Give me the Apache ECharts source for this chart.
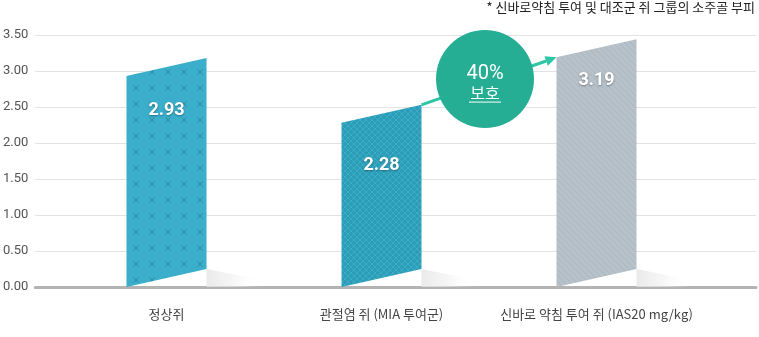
<!DOCTYPE html>
<html>
<head>
<meta charset="utf-8">
<script src="https://cdn.jsdelivr.net/npm/echarts@6/dist/echarts.min.js"></script>
<style>
  html, body { margin: 0; padding: 0; background: #fff; }
  #chart { width: 759px; height: 337px; }
</style>
</head>
<body>
<div id="chart"></div>
<script>
// Trabecular bone volume per rat group
const categories = ['정상쥐', '관절염 쥐 (MIA 투여군)', '신바로 약침 투여 쥐 (IAS20 mg/kg)'];
const volumes = [2.93, 2.28, 3.19];
const protectionPct = 40;
const protectionWord = '보호';
const yMin = 0, yMax = 3.5, yStep = 0.5;
const noteText = '* 신바로약침 투여 및 대조군 쥐 그룹의 소주골 부피';

const KR = '"Noto Sans CJK KR", "Noto Sans", sans-serif';
const NUM = 'Roboto, "Noto Sans CJK KR", sans-serif';

// ---- fill textures for the three slanted bars ----
function tile(size, draw) {
  const c = document.createElement('canvas');
  c.width = size; c.height = size;
  draw(c.getContext('2d'), size);
  return { image: c, repeat: 'repeat' };
}
const crossTile = tile(16, (g, s) => {
  g.fillStyle = '#3aaecb'; g.fillRect(0, 0, s, s);
  g.strokeStyle = '#2a8aa4'; g.lineWidth = 1;
  g.beginPath();
  g.moveTo(5.5, 5.5); g.lineTo(10.5, 10.5);
  g.moveTo(10.5, 5.5); g.lineTo(5.5, 10.5);
  g.stroke();
});
const meshTile = tile(6, (g, s) => {
  g.fillStyle = '#2a9eb9'; g.fillRect(0, 0, s, s);
  g.strokeStyle = 'rgba(110,200,222,0.3)'; g.lineWidth = 1;
  g.beginPath();
  g.moveTo(0, 0); g.lineTo(s, s);
  g.moveTo(s, 0); g.lineTo(0, s);
  g.stroke();
});
const stripeTile = tile(6, (g, s) => {
  g.fillStyle = '#b7c1c9'; g.fillRect(0, 0, s, s);
  g.strokeStyle = '#aab5be'; g.lineWidth = 1;
  g.beginPath();
  g.moveTo(-1, -1); g.lineTo(s + 1, s + 1);
  g.moveTo(-1, s - 1); g.lineTo(1, s + 1);
  g.moveTo(s - 1, -1); g.lineTo(s + 1, 1);
  g.stroke();
});
const barFills = [crossTile, meshTile, stripeTile];
const labelDrop = [34, 43, 23];

const HALF_W = 40;   // half width of a slanted bar
const RISE = 18;     // how far the right edge is lifted

function renderBar(params, api) {
  const i = api.value(0);
  const v = api.value(1);
  const base = api.coord([i, 0]);
  const top = api.coord([i, v]);
  const xl = base[0] - HALF_W, xr = base[0] + HALF_W;
  const y0 = base[1], yt = top[1];
  return {
    type: 'group',
    children: [
      {
        // soft floor shadow to the right of the bar
        type: 'polygon',
        shape: { points: [[xr, y0 - RISE], [xr + 55, y0 - 7], [xr + 55, y0], [xr, y0]] },
        style: {
          fill: { type: 'linear', x: 0, y: 0, x2: 1, y2: 0.3,
            colorStops: [
              { offset: 0, color: 'rgba(228,228,228,0.8)' },
              { offset: 0.45, color: 'rgba(238,238,238,0.6)' },
              { offset: 1, color: 'rgba(255,255,255,0)' }] }
        }
      },
      {
        type: 'polygon',
        shape: { points: [[xl, yt], [xr, yt - RISE], [xr, y0 - RISE], [xl, y0]] },
        style: { fill: barFills[i] }
      },
      {
        type: 'text',
        x: base[0], y: yt + labelDrop[i],
        style: {
          text: v.toFixed(2), fill: '#fff', font: 'bold 18px ' + NUM,
          align: 'center', verticalAlign: 'middle',
          textShadowColor: 'rgba(0,0,0,0.35)', textShadowBlur: 2, textShadowOffsetY: 1
        }
      }
    ]
  };
}

// arrow from the arthritis bar to the treated bar, with the protection bubble on it
function renderArrow(params, api) {
  const a = api.coord([1, volumes[1]]);
  const b = api.coord([2, volumes[2]]);
  const s = [a[0] + HALF_W, a[1] - RISE];
  const e = [b[0] - HALF_W, b[1]];
  const dx = e[0] - s[0], dy = e[1] - s[1];
  const len = Math.sqrt(dx * dx + dy * dy);
  const ux = dx / len, uy = dy / len;
  const head = 11, hw = 5;
  const hb = [e[0] - ux * head, e[1] - uy * head];
  const cx = (s[0] + e[0]) / 2 - 4, cy = (s[1] + e[1]) / 2 - 2;
  const color = '#2ec6a6';
  return {
    type: 'group',
    children: [
      { type: 'line', shape: { x1: s[0], y1: s[1], x2: hb[0], y2: hb[1] },
        style: { stroke: color, lineWidth: 3 } },
      { type: 'polygon',
        shape: { points: [e, [hb[0] - uy * hw, hb[1] + ux * hw], [hb[0] + uy * hw, hb[1] - ux * hw]] },
        style: { fill: color } },
      { type: 'circle', shape: { cx: cx, cy: cy, r: 49 }, style: { fill: '#25ae94' } },
      { type: 'text', x: cx, y: cy - 5,
        style: { text: protectionPct + '%', fill: '#fff', font: '20px ' + NUM, align: 'center', verticalAlign: 'middle' } },
      { type: 'text', x: cx, y: cy + 14,
        style: { text: protectionWord, fill: '#fff', font: '16px ' + KR, align: 'center', verticalAlign: 'middle' } },
      { type: 'line', shape: { x1: cx - 16, y1: cy + 23, x2: cx + 16, y2: cy + 23 },
        style: { stroke: '#fff', lineWidth: 1 } }
    ]
  };
}

const chart = echarts.init(document.getElementById('chart'), null, { renderer: 'canvas' });
chart.setOption({
  animation: false,
  backgroundColor: '#fff',
  grid: [
    { left: 33, right: 3, top: 35, bottom: 50 },
    { left: 59, right: 55, top: 35, bottom: 50 }
  ],
  xAxis: [
    { type: 'value', gridIndex: 0, min: 0, max: 1,
      axisLine: { show: true, lineStyle: { color: '#b3b3b3', width: 3 } },
      axisTick: { show: false }, axisLabel: { show: false }, splitLine: { show: false } },
    { type: 'category', gridIndex: 1, data: categories,
      axisLine: { show: false }, axisTick: { show: false },
      axisLabel: { interval: 0, color: '#444', fontSize: 13, fontFamily: KR, margin: 21 } }
  ],
  yAxis: [
    { type: 'value', gridIndex: 0, min: yMin, max: yMax, interval: yStep,
      axisLine: { show: false }, axisTick: { show: false },
      axisLabel: { color: '#555', fontSize: 13, fontFamily: NUM, margin: 7,
        formatter: (v) => v.toFixed(2) },
      splitLine: { lineStyle: { color: '#e2e2e2', width: 1 } } },
    { type: 'value', gridIndex: 1, min: yMin, max: yMax, interval: yStep, show: false }
  ],
  series: [
    { type: 'custom', xAxisIndex: 1, yAxisIndex: 1, clip: false,
      data: volumes.map((v, i) => [i, v]), renderItem: renderBar, z: 3 },
    { type: 'custom', xAxisIndex: 1, yAxisIndex: 1, clip: false,
      data: [[1, 2]], renderItem: renderArrow, z: 4 }
  ],
  graphic: [
    { type: 'text', right: 4, top: 1,
      style: { text: noteText, fill: '#222', font: '13px ' + KR } }
  ]
});
</script>
</body>
</html>
